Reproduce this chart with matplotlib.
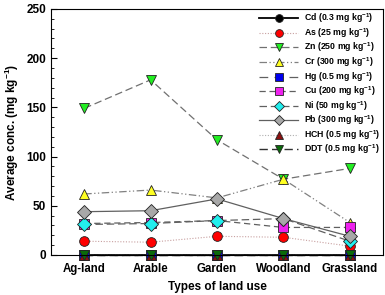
import matplotlib
matplotlib.use("Agg")
import matplotlib.pyplot as plt
from matplotlib.ticker import MultipleLocator

plt.rcParams['font.family'] = ['Liberation Sans', 'DejaVu Sans']
plt.rcParams['font.weight'] = 'bold'
plt.rcParams['mathtext.fontset'] = 'custom'
plt.rcParams['mathtext.rm'] = 'Liberation Sans:bold'
plt.rcParams['mathtext.bf'] = 'Liberation Sans:bold'
plt.rcParams['mathtext.default'] = 'bf'

categories = ['Ag-land', 'Arable', 'Garden', 'Woodland', 'Grassland']

cd = [0.3, 0.3, 0.3, 0.3, 0.3]
as_ = [14, 13, 19, 18, 9]
zn = [149, 178, 117, 77, 88]
cr = [62, 66, 58, 77, 33]
hg = [0.2, 0.2, 0.2, 0.2, 0.2]
cu = [32, 33, 35, 28, 28]
ni = [31, 32, 35, 37, 14]
pb = [44, 45, 57, 37, 19]
hch = [0.1, 0.1, 0.1, 0.1, 0.1]
ddt = [0.1, 0.1, 0.1, 0.1, 0.1]

labels = ['Cd (0.3 mg kg$^{-1}$)', 'As (25 mg kg$^{-1}$)', 'Zn (250 mg kg$^{-1}$)',
          'Cr (300 mg kg$^{-1}$)', 'Hg (0.5 mg kg$^{-1}$)', 'Cu (200 mg kg$^{-1}$)',
          'Ni (50 mg kg$^{-1}$)', 'Pb (300 mg kg$^{-1}$)', 'HCH (0.5 mg kg$^{-1}$)',
          'DDT (0.5 mg kg$^{-1}$)']

series = [cd, as_, zn, cr, hg, cu, ni, pb, hch, ddt]
styles = [
    dict(marker='o', mfc='black', color='black', ls='-', lw=1.3),
    dict(marker='o', mfc='red', color='#c8a0a0', ls=(0, (1, 1.5)), lw=0.8),
    dict(marker='v', mfc='#22ee22', color='#707070', ls=(0, (6, 3)), lw=0.9),
    dict(marker='^', mfc='#ffff22', color='#808080', ls=(0, (6, 2, 1, 2, 1, 2)), lw=0.9),
    dict(marker='s', mfc='#0000ee', color='#606060', ls=(0, (7, 5)), lw=0.9),
    dict(marker='s', mfc='#ee22ee', color='#606060', ls=(0, (5, 3)), lw=0.9),
    dict(marker='D', mfc='#22eeee', color='#606060', ls=(0, (6, 3)), lw=0.9),
    dict(marker='D', mfc='#a8a8a8', color='#606060', ls='-', lw=0.9),
    dict(marker='^', mfc='#8b1010', color='#b0b0b0', ls=(0, (1, 1.5)), lw=0.8),
    dict(marker='v', mfc='#0a6a0a', color='#303030', ls=(0, (6, 3)), lw=1.0),
]

fig = plt.figure(figsize=(3.85, 2.95), dpi=100)
ax = fig.add_axes([0.1325, 0.1356, 0.8625, 0.834])

x = list(range(len(categories)))
for vals, st, lab in zip(series, styles, labels):
    ax.plot(x, vals, marker=st['marker'], markerfacecolor=st['mfc'],
            markeredgecolor='#222222', markeredgewidth=0.6, markersize=7,
            color=st['color'], linestyle=st['ls'], linewidth=st['lw'],
            label=lab, clip_on=False)

ax.set_xlim(-0.5, 4.5)
ax.set_ylim(0, 250)
ax.set_xticks(x)
ax.set_xticklabels(categories, fontsize=8.3, fontweight='bold')
ax.tick_params(axis='x', length=0, pad=6)
ax.yaxis.set_major_locator(MultipleLocator(50))
ax.yaxis.set_minor_locator(MultipleLocator(10))
ax.tick_params(axis='y', which='major', direction='in', length=4, labelsize=8.5, width=0.8)
ax.tick_params(axis='y', which='minor', direction='in', length=2, width=0.6)
for lbl in ax.get_yticklabels():
    lbl.set_fontweight('bold')
for sp in ax.spines.values():
    sp.set_linewidth(0.8)

ax.set_ylabel('Average conc. (mg kg$^{-1}$)', fontsize=8.5, fontweight='bold', labelpad=4)
ax.set_xlabel('Types of land use', fontsize=8.5, fontweight='bold', labelpad=4)

leg = ax.legend(loc='upper right', frameon=False, fontsize=6.3, handlelength=4.4,
                labelspacing=0.1, borderaxespad=0.0, borderpad=0.3, handletextpad=0.7,
                markerscale=0.8, numpoints=1, bbox_to_anchor=(1.0, 1.0))
for t in leg.get_texts():
    t.set_fontweight('bold')

fig.savefig('out.png', dpi=100)
